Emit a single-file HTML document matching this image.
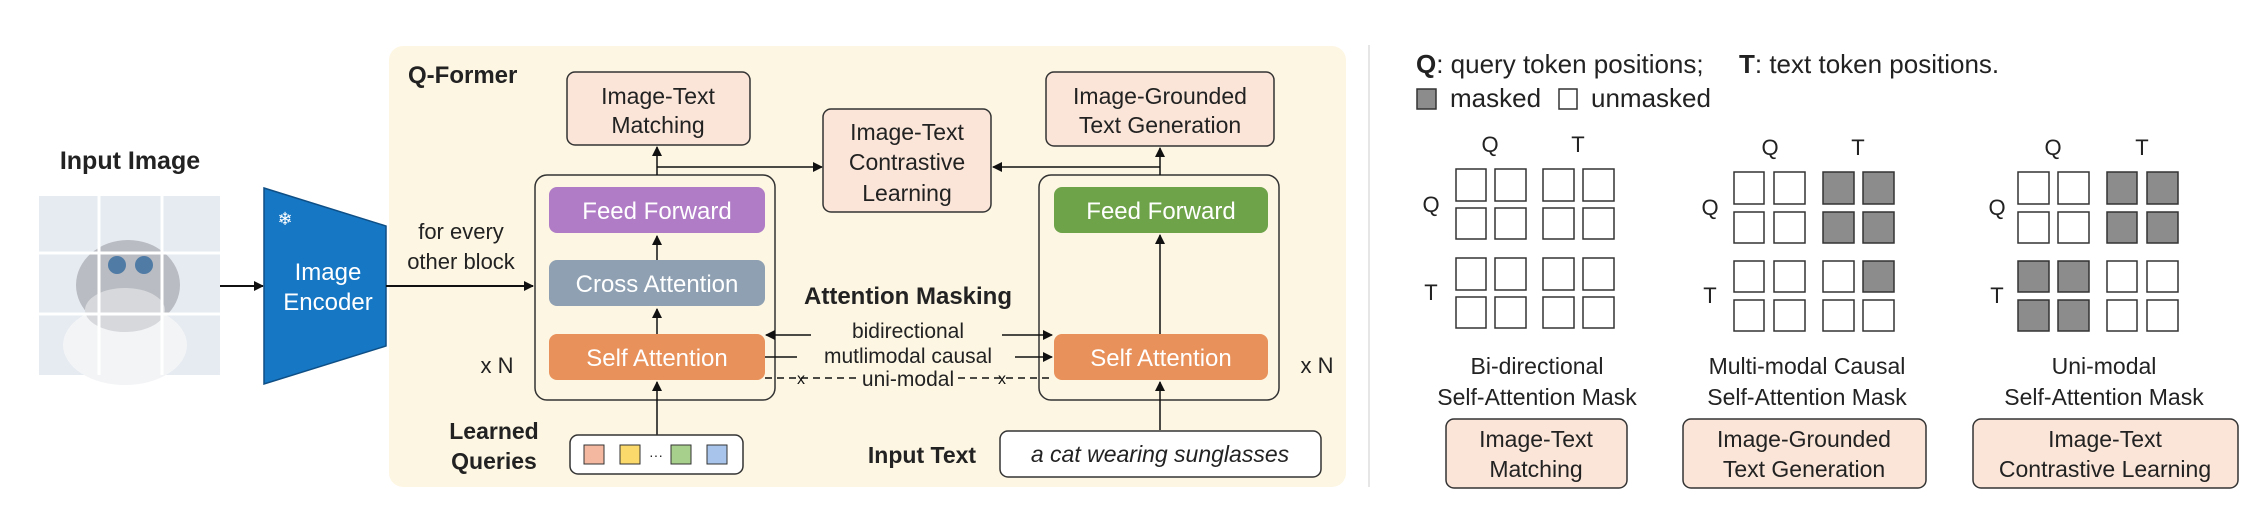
<!DOCTYPE html>
<html><head><meta charset="utf-8"><style>
html,body{margin:0;padding:0;background:#fff;}
svg{display:block;font-family:"Liberation Sans",Arial,sans-serif;}
</style></head><body>
<svg width="2259" height="505" viewBox="0 0 2259 505" xmlns="http://www.w3.org/2000/svg">
<defs>
<marker id="ah" markerWidth="10" markerHeight="10" refX="9" refY="5" orient="auto" markerUnits="userSpaceOnUse">
<path d="M0,0 L10,5 L0,10 z" fill="#111"/></marker>
</defs>
<rect x="389" y="46" width="957" height="441" rx="14" fill="#fdf6e3"/>
<line x1="1369" y1="45" x2="1369" y2="487" stroke="#ddd" stroke-width="1.5"/>

<text x="130" y="169" font-size="25" font-weight="bold" text-anchor="middle" fill="#222">Input Image</text>
<rect x="39" y="196" width="181" height="179" fill="#e6ebf1"/>
<ellipse cx="128" cy="285" rx="52" ry="45" fill="#b9bcc2"/>
<ellipse cx="125" cy="345" rx="62" ry="40" fill="#f3f4f6"/>
<ellipse cx="125" cy="310" rx="40" ry="22" fill="#d6d8dc"/>
<circle cx="117" cy="265" r="9" fill="#4f7ba5"/><circle cx="144" cy="265" r="9" fill="#4f7ba5"/>
<line x1="99" y1="196" x2="99" y2="375" stroke="#fff" stroke-width="3"/>
<line x1="162" y1="196" x2="162" y2="375" stroke="#fff" stroke-width="3"/>
<line x1="39" y1="253" x2="220" y2="253" stroke="#fff" stroke-width="3"/>
<line x1="39" y1="314" x2="220" y2="314" stroke="#fff" stroke-width="3"/>

<line x1="220" y1="286" x2="263" y2="286" stroke="#111" stroke-width="2" marker-end="url(#ah)"/>
<polygon points="264,188 386,226 386,346 264,384" fill="#1677c4" stroke="#0e4f86" stroke-width="1.5"/>
<text x="285" y="225" font-size="18" fill="#fff" text-anchor="middle">❄</text>
<text x="328" y="280" font-size="24" fill="#fff" text-anchor="middle">Image</text>
<text x="328" y="310" font-size="24" fill="#fff" text-anchor="middle">Encoder</text>
<line x1="386" y1="286" x2="533" y2="286" stroke="#111" stroke-width="2" marker-end="url(#ah)"/>
<text x="461" y="239" font-size="22" fill="#222" text-anchor="middle">for every</text>
<text x="461" y="269" font-size="22" fill="#222" text-anchor="middle">other block</text>

<text x="408" y="83" font-size="24" font-weight="bold" fill="#222">Q-Former</text>

<rect x="535" y="175" width="240" height="225" rx="12" fill="none" stroke="#333" stroke-width="1.5"/>
<rect x="549" y="187" width="216" height="46" rx="8" fill="#b07cc6"/>
<text x="657" y="219" font-size="24" fill="#fff" text-anchor="middle">Feed Forward</text>
<rect x="549" y="260" width="216" height="46" rx="8" fill="#8ea0b2"/>
<text x="657" y="292" font-size="24" fill="#fff" text-anchor="middle">Cross Attention</text>
<rect x="549" y="334" width="216" height="46" rx="8" fill="#e8915a"/>
<text x="657" y="366" font-size="24" fill="#fff" text-anchor="middle">Self Attention</text>
<line x1="657" y1="260" x2="657" y2="236" stroke="#111" stroke-width="1.5" marker-end="url(#ah)"/>
<line x1="657" y1="334" x2="657" y2="309" stroke="#111" stroke-width="1.5" marker-end="url(#ah)"/>
<line x1="657" y1="435" x2="657" y2="382" stroke="#111" stroke-width="1.5" marker-end="url(#ah)"/>
<line x1="657" y1="175" x2="657" y2="147" stroke="#111" stroke-width="1.5" marker-end="url(#ah)"/>
<line x1="657" y1="167" x2="822" y2="167" stroke="#111" stroke-width="1.5" marker-end="url(#ah)"/>
<text x="497" y="373" font-size="22" fill="#222" text-anchor="middle">x N</text>

<rect x="567" y="72" width="183" height="73" rx="8" fill="#fae5d8" stroke="#333" stroke-width="1.5"/>
<text x="658" y="104" font-size="23" fill="#222" text-anchor="middle">Image-Text</text>
<text x="658" y="133" font-size="23" fill="#222" text-anchor="middle">Matching</text>
<rect x="823" y="109" width="168" height="103" rx="8" fill="#fae5d8" stroke="#333" stroke-width="1.5"/>
<text x="907" y="140" font-size="23" fill="#222" text-anchor="middle">Image-Text</text>
<text x="907" y="170" font-size="23" fill="#222" text-anchor="middle">Contrastive</text>
<text x="907" y="201" font-size="23" fill="#222" text-anchor="middle">Learning</text>
<rect x="1046" y="72" width="228" height="74" rx="8" fill="#fae5d8" stroke="#333" stroke-width="1.5"/>
<text x="1160" y="104" font-size="23" fill="#222" text-anchor="middle">Image-Grounded</text>
<text x="1160" y="133" font-size="23" fill="#222" text-anchor="middle">Text Generation</text>

<rect x="1039" y="175" width="240" height="225" rx="12" fill="none" stroke="#333" stroke-width="1.5"/>
<rect x="1054" y="187" width="214" height="46" rx="8" fill="#6ea34a"/>
<text x="1161" y="219" font-size="24" fill="#fff" text-anchor="middle">Feed Forward</text>
<rect x="1054" y="334" width="214" height="46" rx="8" fill="#e8915a"/>
<text x="1161" y="366" font-size="24" fill="#fff" text-anchor="middle">Self Attention</text>
<line x1="1160" y1="334" x2="1160" y2="235" stroke="#111" stroke-width="1.5" marker-end="url(#ah)"/>
<line x1="1160" y1="430" x2="1160" y2="382" stroke="#111" stroke-width="1.5" marker-end="url(#ah)"/>
<line x1="1160" y1="175" x2="1160" y2="148" stroke="#111" stroke-width="1.5" marker-end="url(#ah)"/>
<line x1="1160" y1="167" x2="993" y2="167" stroke="#111" stroke-width="1.5" marker-end="url(#ah)"/>
<text x="1317" y="373" font-size="22" fill="#222" text-anchor="middle">x N</text>

<text x="908" y="304" font-size="24" font-weight="bold" fill="#222" text-anchor="middle">Attention Masking</text>
<text x="908" y="338" font-size="21" fill="#222" text-anchor="middle">bidirectional</text>
<text x="908" y="363" font-size="21" fill="#222" text-anchor="middle">mutlimodal causal</text>
<text x="908" y="386" font-size="21" fill="#222" text-anchor="middle">uni-modal</text>
<line x1="811" y1="335" x2="766" y2="335" stroke="#111" stroke-width="1.5" marker-end="url(#ah)"/>
<line x1="1002" y1="335" x2="1052" y2="335" stroke="#111" stroke-width="1.5" marker-end="url(#ah)"/>
<line x1="765" y1="357" x2="797" y2="357" stroke="#111" stroke-width="1.5"/>
<line x1="1015" y1="357" x2="1052" y2="357" stroke="#111" stroke-width="1.5" marker-end="url(#ah)"/>
<line x1="765" y1="378" x2="860" y2="378" stroke="#111" stroke-width="1.5" stroke-dasharray="7,5"/>
<line x1="958" y1="378" x2="1054" y2="378" stroke="#111" stroke-width="1.5" stroke-dasharray="7,5"/>
<text x="801" y="384" font-size="16" fill="#111" text-anchor="middle">x</text>
<text x="1002" y="384" font-size="16" fill="#111" text-anchor="middle">x</text>

<text x="494" y="439" font-size="23" font-weight="bold" fill="#222" text-anchor="middle">Learned</text>
<text x="494" y="469" font-size="23" font-weight="bold" fill="#222" text-anchor="middle">Queries</text>
<rect x="570" y="435" width="173" height="39" rx="8" fill="#fff" stroke="#333" stroke-width="1.5"/>
<rect x="584" y="445" width="20" height="19" fill="#f4b8a0" stroke="#333"/>
<rect x="620" y="445" width="20" height="19" fill="#fbd96a" stroke="#333"/>
<text x="656" y="460" font-size="14" fill="#222" text-anchor="middle">···</text>
<rect x="671" y="445" width="20" height="19" fill="#a8d08d" stroke="#333"/>
<rect x="707" y="445" width="20" height="19" fill="#a9c4eb" stroke="#333"/>

<text x="922" y="463" font-size="23" font-weight="bold" fill="#222" text-anchor="middle">Input Text</text>
<rect x="1000" y="431" width="321" height="46" rx="8" fill="#fff" stroke="#333" stroke-width="1.5"/>
<text x="1160" y="462" font-size="23" font-style="italic" fill="#222" text-anchor="middle">a cat wearing sunglasses</text>

<text x="1416" y="73" font-size="26" fill="#222"><tspan font-weight="bold">Q</tspan>: query token positions;</text>
<text x="1739" y="73" font-size="26" fill="#222"><tspan font-weight="bold">T</tspan>: text token positions.</text>
<rect x="1417" y="89" width="19" height="20" fill="#8c8c8c" stroke="#333" stroke-width="1.5"/>
<text x="1450" y="107" font-size="26" fill="#222">masked</text>
<rect x="1559" y="89" width="18" height="20" fill="#fff" stroke="#333" stroke-width="1.5"/>
<text x="1591" y="107" font-size="26" fill="#222">unmasked</text>

<g font-size="22" fill="#222" text-anchor="middle">
<text x="1490" y="152">Q</text><text x="1578" y="152">T</text>
<text x="1431" y="212">Q</text><text x="1431" y="300">T</text>
<text x="1770" y="155">Q</text><text x="1858" y="155">T</text>
<text x="1710" y="215">Q</text><text x="1710" y="303">T</text>
<text x="2053" y="155">Q</text><text x="2142" y="155">T</text>
<text x="1997" y="215">Q</text><text x="1997" y="303">T</text>
</g>
<g stroke="#333" stroke-width="1.5" fill="#fff">
<rect x="1456" y="169" width="30" height="32"/><rect x="1495" y="169" width="31" height="32"/><rect x="1543" y="169" width="31" height="32"/><rect x="1583" y="169" width="31" height="32"/>
<rect x="1456" y="208" width="30" height="31"/><rect x="1495" y="208" width="31" height="31"/><rect x="1543" y="208" width="31" height="31"/><rect x="1583" y="208" width="31" height="31"/>
<rect x="1456" y="258" width="30" height="32"/><rect x="1495" y="258" width="31" height="32"/><rect x="1543" y="258" width="31" height="32"/><rect x="1583" y="258" width="31" height="32"/>
<rect x="1456" y="297" width="30" height="31"/><rect x="1495" y="297" width="31" height="31"/><rect x="1543" y="297" width="31" height="31"/><rect x="1583" y="297" width="31" height="31"/>
<rect x="1734" y="172" width="30" height="32"/><rect x="1774" y="172" width="31" height="32"/><rect x="1823" y="172" width="31" height="32" fill="#8c8c8c"/><rect x="1863" y="172" width="31" height="32" fill="#8c8c8c"/>
<rect x="1734" y="212" width="30" height="31"/><rect x="1774" y="212" width="31" height="31"/><rect x="1823" y="212" width="31" height="31" fill="#8c8c8c"/><rect x="1863" y="212" width="31" height="31" fill="#8c8c8c"/>
<rect x="1734" y="261" width="30" height="31"/><rect x="1774" y="261" width="31" height="31"/><rect x="1823" y="261" width="31" height="31"/><rect x="1863" y="261" width="31" height="31" fill="#8c8c8c"/>
<rect x="1734" y="300" width="30" height="31"/><rect x="1774" y="300" width="31" height="31"/><rect x="1823" y="300" width="31" height="31"/><rect x="1863" y="300" width="31" height="31"/>
<rect x="2018" y="172" width="31" height="32"/><rect x="2058" y="172" width="31" height="32"/><rect x="2107" y="172" width="30" height="32" fill="#8c8c8c"/><rect x="2147" y="172" width="31" height="32" fill="#8c8c8c"/>
<rect x="2018" y="212" width="31" height="31"/><rect x="2058" y="212" width="31" height="31"/><rect x="2107" y="212" width="30" height="31" fill="#8c8c8c"/><rect x="2147" y="212" width="31" height="31" fill="#8c8c8c"/>
<rect x="2018" y="261" width="31" height="31" fill="#8c8c8c"/><rect x="2058" y="261" width="31" height="31" fill="#8c8c8c"/><rect x="2107" y="261" width="30" height="31"/><rect x="2147" y="261" width="31" height="31"/>
<rect x="2018" y="300" width="31" height="31" fill="#8c8c8c"/><rect x="2058" y="300" width="31" height="31" fill="#8c8c8c"/><rect x="2107" y="300" width="30" height="31"/><rect x="2147" y="300" width="31" height="31"/>
</g>

<g font-size="23" fill="#222" text-anchor="middle">
<text x="1537" y="374">Bi-directional</text><text x="1537" y="405">Self-Attention Mask</text>
<text x="1807" y="374">Multi-modal Causal</text><text x="1807" y="405">Self-Attention Mask</text>
<text x="2104" y="374">Uni-modal</text><text x="2104" y="405">Self-Attention Mask</text>
</g>
<g stroke="#333" stroke-width="1.5" fill="#fae5d8">
<rect x="1446" y="419" width="181" height="69" rx="8"/>
<rect x="1683" y="419" width="243" height="69" rx="8"/>
<rect x="1973" y="419" width="265" height="69" rx="8"/>
</g>
<g font-size="23" fill="#222" text-anchor="middle">
<text x="1536" y="447">Image-Text</text><text x="1536" y="477">Matching</text>
<text x="1804" y="447">Image-Grounded</text><text x="1804" y="477">Text Generation</text>
<text x="2105" y="447">Image-Text</text><text x="2105" y="477">Contrastive Learning</text>
</g>
</svg>
</body></html>
